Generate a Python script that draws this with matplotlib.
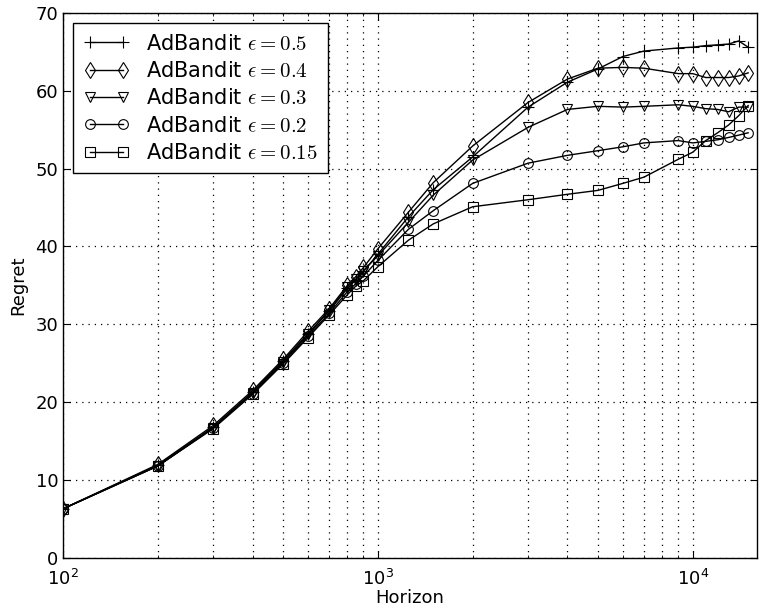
import matplotlib
matplotlib.use("Agg")
import matplotlib.pyplot as plt

plt.rcParams['font.family'] = ['DejaVu Sans']
plt.rcParams['mathtext.fontset'] = 'cm'

horizon = [100, 200, 300, 400, 500, 600, 700, 800, 850, 900, 1000, 1250, 1500,
           2000, 3000, 4000, 5000, 6000, 7000, 9000, 10000, 11000, 12000,
           13000, 14000, 15000]

labels = [r"AdBandit $\epsilon=0.5$", r"AdBandit $\epsilon=0.4$",
          r"AdBandit $\epsilon=0.3$", r"AdBandit $\epsilon=0.2$",
          r"AdBandit $\epsilon=0.15$"]

eps_05 = [6.3, 11.9, 16.8, 21.3, 25.3, 28.8, 31.7, 34.6, 35.7, 36.8, 39.0, 43.8,
          47.3, 51.5, 57.9, 61.1, 62.8, 64.4, 65.1, 65.5, 65.6, 65.8, 65.9,
          66.0, 66.4, 65.6]
eps_04 = [6.3, 12.0, 17.0, 21.5, 25.5, 29.1, 32.0, 35.0, 36.1, 37.3, 39.7, 44.4,
          48.2, 52.9, 58.5, 61.5, 62.9, 63.0, 62.9, 62.2, 62.2, 61.7, 61.7,
          61.7, 61.9, 62.3]
eps_03 = [6.3, 11.8, 16.7, 21.2, 25.2, 28.7, 31.8, 34.8, 35.8, 36.9, 38.8, 43.1,
          46.6, 51.1, 55.3, 57.6, 58.0, 57.9, 58.0, 58.2, 58.0, 57.7, 57.6,
          57.3, 57.9, 57.9]
eps_02 = [6.3, 11.8, 16.7, 21.1, 25.0, 28.5, 31.4, 34.2, 35.2, 36.2, 38.2, 42.2,
          44.6, 48.1, 50.7, 51.7, 52.3, 52.8, 53.3, 53.6, 53.3, 53.5, 53.7,
          54.0, 54.3, 54.6]
eps_015 = [6.3, 11.8, 16.6, 21.0, 24.9, 28.3, 31.2, 33.8, 34.9, 35.6, 37.4, 40.8,
           42.9, 45.1, 46.0, 46.7, 47.2, 48.1, 48.9, 51.2, 52.1, 53.6, 54.6,
           55.6, 56.8, 58.1]

series = [eps_05, eps_04, eps_03, eps_02, eps_015]
markers = ['+', 'd', 'v', 'o', 's']
msizes = [9, 8.5, 7.5, 7, 7]

fig = plt.figure(figsize=(7.6, 6.15), dpi=100)
ax = fig.add_axes([0.083, 0.093, 0.913, 0.886])

for vals, lab, m, ms in zip(series, labels, markers, msizes):
    ax.plot(horizon, vals, color='black', linewidth=1.0, marker=m,
            markersize=ms, markerfacecolor='none', markeredgecolor='black',
            markeredgewidth=0.8, label=lab)

ax.set_xscale('log')
ax.set_xlim(100, 16000)
ax.set_ylim(0, 70)
ax.set_yticks(range(0, 71, 10))

ax.grid(True, which='major', axis='both', linestyle=(0, (1, 4)), color='black', linewidth=0.9)
ax.grid(True, which='minor', axis='x', linestyle=(0, (1, 4)), color='black', linewidth=0.9)

ax.tick_params(which='both', direction='in', top=True, right=True, labelsize=13)
ax.tick_params(axis='x', which='major', pad=8)
ax.tick_params(which='major', length=5, width=0.8)
ax.tick_params(which='minor', length=2.5, width=0.6)
for s in ax.spines.values():
    s.set_linewidth(1.0)

ax.set_xlabel("Horizon", fontsize=13, labelpad=0)
ax.set_ylabel("Regret", fontsize=13, labelpad=6)

leg = ax.legend(loc='upper left', fontsize=15, fancybox=False, framealpha=1,
                edgecolor='black', borderaxespad=0.5, handlelength=2.2,
                labelspacing=0.35, numpoints=2, borderpad=0.5)
leg.get_frame().set_linewidth(1.0)

fig.savefig("out.png", dpi=100)
